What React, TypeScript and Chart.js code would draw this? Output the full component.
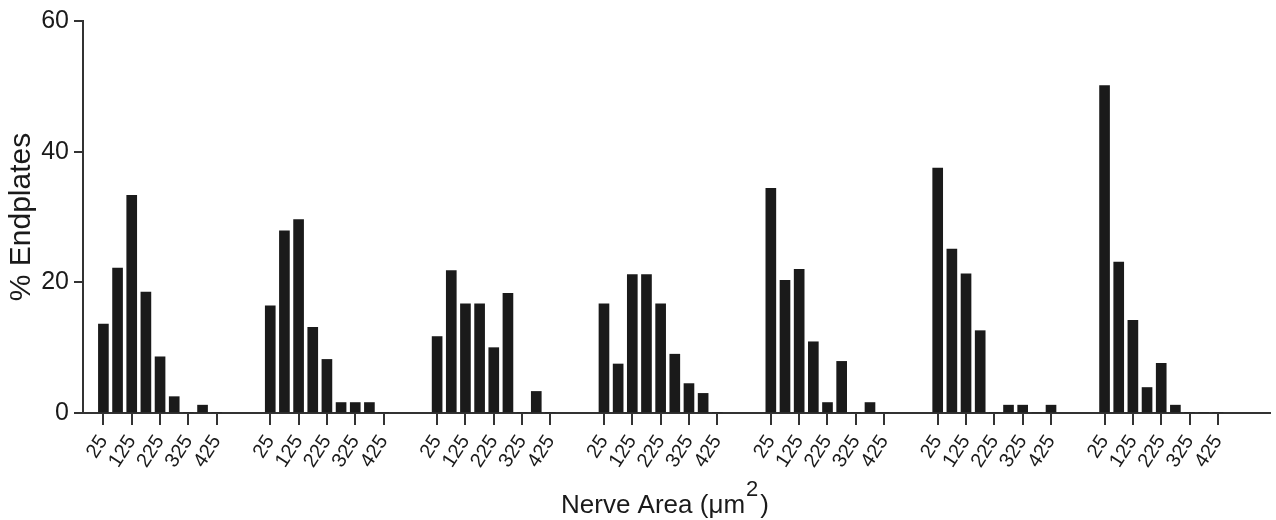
import React, { useEffect, useRef } from 'react';
import { Chart, registerables } from 'chart.js';
Chart.register(...registerables);

// Bin centres (µm²) within each group
const bins = [25, 75, 125, 175, 225, 275, 325, 375, 425];
// Labelled tick bins
const tickBins = [25, 125, 225, 325, 425];

// % Endplates per bin, one array per group (left to right)
const group1 = [13.6, 22.2, 33.3, 18.5, 8.6, 2.5, 0, 1.2, 0];
const group2 = [16.4, 27.9, 29.6, 13.1, 8.2, 1.6, 1.6, 1.6, 0];
const group3 = [11.7, 21.8, 16.7, 16.7, 10.0, 18.3, 0, 3.3, 0];
const group4 = [16.7, 7.5, 21.2, 21.2, 16.7, 9.0, 4.5, 3.0, 0];
const group5 = [34.4, 20.3, 22.0, 10.9, 1.6, 7.9, 0, 1.6, 0];
const group6 = [37.5, 25.1, 21.3, 12.6, 0, 1.2, 1.2, 0, 1.2];
const group7 = [50.1, 23.1, 14.2, 3.9, 7.6, 1.2, 0, 0, 0];

const groups = [group1, group2, group3, group4, group5, group6, group7];

const yTicks = [0, 20, 40, 60];
const yTitle = '% Endplates';
const xTitleMain = 'Nerve Area (μm';
const xTitleSup = '2';
const xTitleEnd = ')';

// Layout constant: offset (in axis units) between consecutive groups
const GROUP_STEP = 589;

const FONT = "'Liberation Sans', Arial, Helvetica, sans-serif";
const INK = '#1a1a1a';
const AXIS = '#333333';

export default function App() {
  const ref = useRef<HTMLCanvasElement>(null);

  useEffect(() => {
    if (!ref.current) return;
    const data: { x: number; y: number }[] = [];
    groups.forEach((vals, g) =>
      vals.forEach((v, i) => data.push({ x: g * GROUP_STEP + bins[i], y: v }))
    );
    const tickValues: number[] = [];
    groups.forEach((_, g) => tickBins.forEach((b) => tickValues.push(g * GROUP_STEP + b)));

    const xTitlePlugin = {
      id: 'xTitlePlugin',
      afterDraw(chart: any) {
        const ctx = chart.ctx;
        const mainFont = `26px ${FONT}`;
        const supFont = `22px ${FONT}`;
        ctx.save();
        ctx.fillStyle = INK;
        ctx.textBaseline = 'alphabetic';
        ctx.textAlign = 'left';
        ctx.font = mainFont;
        const w1 = ctx.measureText(xTitleMain).width;
        const w3 = ctx.measureText(xTitleEnd).width;
        ctx.font = supFont;
        const w2 = ctx.measureText(xTitleSup).width;
        const total = w1 + w2 + w3 + 3;
        const cx = 665;
        const base = 513;
        let x = cx - total / 2;
        ctx.font = mainFont;
        ctx.fillText(xTitleMain, x, base);
        x += w1 + 1;
        ctx.font = supFont;
        ctx.fillText(xTitleSup, x, base - 17);
        x += w2 + 2;
        ctx.font = mainFont;
        ctx.fillText(xTitleEnd, x, base);
        ctx.restore();
      },
    };

    const chart = new Chart(ref.current, {
      type: 'bar',
      data: {
        datasets: [
          {
            data,
            backgroundColor: INK,
            borderWidth: 0,
            barThickness: 10,
          } as any,
        ],
      },
      options: {
        animation: false,
        responsive: false,
        layout: { padding: { top: 21, right: 6, left: 0, bottom: 0 } },
        plugins: {
          legend: { display: false },
          tooltip: { enabled: false },
        },
        scales: {
          x: {
            type: 'linear',
            min: -47,
            max: 4143,
            offset: false,
            grid: {
              display: true,
              drawOnChartArea: false,
              drawTicks: true,
              tickLength: 12,
              color: AXIS,
              lineWidth: 2,
              offset: false,
            },
            border: { display: true, color: AXIS, width: 2 },
            ticks: {
              autoSkip: false,
              minRotation: 57,
              maxRotation: 57,
              padding: 6,
              color: INK,
              font: { family: FONT, size: 20 },
              callback: (value: any) => {
                const v = Number(value);
                const g = Math.round((v - 225) / GROUP_STEP);
                return String(Math.round(v - g * GROUP_STEP));
              },
            },
            afterBuildTicks: (s: any) => {
              s.ticks = tickValues.map((v) => ({ value: v }));
            },
            afterFit: (s: any) => {
              s.height = 107;
            },
          },
          y: {
            min: 0,
            max: 60,
            afterBuildTicks: (s: any) => {
              s.ticks = yTicks.map((v) => ({ value: v }));
            },
            ticks: {
              padding: 5,
              color: INK,
              font: { family: FONT, size: 25 },
            },
            grid: {
              display: true,
              drawOnChartArea: false,
              drawTicks: true,
              tickLength: 9,
              color: AXIS,
              lineWidth: 2,
            },
            border: { display: true, color: AXIS, width: 2 },
            title: {
              display: true,
              text: yTitle,
              color: INK,
              font: { family: FONT, size: 30 },
              padding: { top: 4, bottom: 0 },
            },
            afterFit: (s: any) => {
              s.width = 83;
            },
          },
        },
      } as any,
      plugins: [xTitlePlugin],
    });
    return () => chart.destroy();
  }, []);

  return (
    <div style={{ position: 'absolute', left: 0, top: 0, width: 1276, height: 520, background: '#fff' }}>
      <canvas ref={ref} width={1276} height={520} style={{ display: 'block' }} />
    </div>
  );
}
